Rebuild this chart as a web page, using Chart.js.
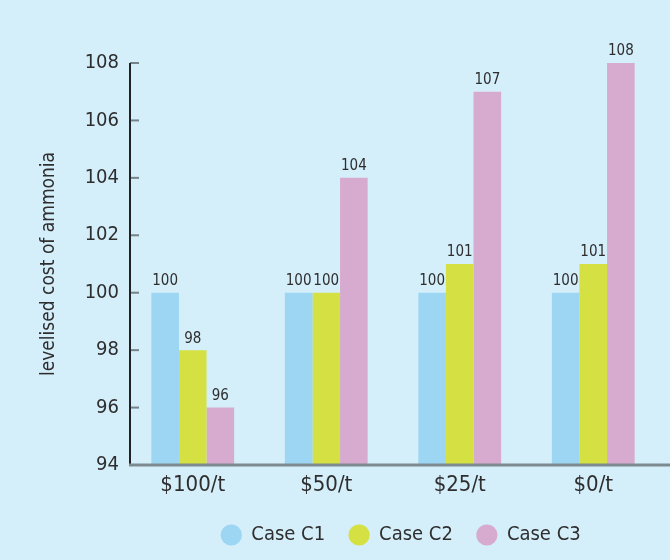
<!DOCTYPE html>
<html>
<head>
<meta charset="utf-8">
<script src="https://cdn.jsdelivr.net/npm/chart.js@4/dist/chart.umd.min.js"></script>
<style>
  html, body { margin: 0; padding: 0; background: #d4eefa; }
  #wrap { width: 670px; height: 560px; position: relative; }
</style>
</head>
<body>
<div id="wrap"><canvas id="chart"></canvas></div>
<script>
const categories = ["$100/t", "$50/t", "$25/t", "$0/t"];
const caseC1 = [100, 100, 100, 100];
const caseC2 = [98, 100, 101, 101];
const caseC3 = [96, 104, 107, 108];
const yMin = 94;
const yMax = 108;
const yStep = 2;

const FONT = "'DejaVu Sans Condensed', 'Liberation Sans', sans-serif";
const TEXT = "#2e2e2e";

// value printed above each bar
const barLabels = {
    id: "barLabels",
    afterDatasetsDraw(chart) {
        const ctx = chart.ctx;
        ctx.save();
        ctx.font = "15px " + FONT;
        ctx.fillStyle = TEXT;
        ctx.textAlign = "center";
        ctx.textBaseline = "bottom";
        chart.data.datasets.forEach((ds, i) => {
            chart.getDatasetMeta(i).data.forEach((bar, j) => {
                ctx.fillText(ds.data[j], bar.x, bar.y - 4);
            });
        });
        ctx.restore();
    }
};

// axis lines: y axis with inward ticks, x axis running to the edge
const axisLines = {
    id: "axisLines",
    afterLayout(chart) {
        // legend sits a little right of the plot centre
        chart.legend.left += 8;
        chart.legend.right += 8;
    },
    afterDraw(chart) {
        const ctx = chart.ctx;
        const area = chart.chartArea;
        const y = chart.scales.y;
        const axisX = area.left + 4;
        ctx.save();
        ctx.strokeStyle = "#75838a";
        ctx.lineWidth = 2;
        y.ticks.forEach(t => {
            const py = y.getPixelForValue(t.value);
            ctx.beginPath();
            ctx.moveTo(axisX, py);
            ctx.lineTo(axisX + 9, py);
            ctx.stroke();
        });
        ctx.strokeStyle = "#222";
        ctx.lineWidth = 2;
        ctx.beginPath();
        ctx.moveTo(axisX, area.top);
        ctx.lineTo(axisX, area.bottom);
        ctx.stroke();
        ctx.strokeStyle = "#7d8b91";
        ctx.lineWidth = 3;
        ctx.beginPath();
        ctx.moveTo(axisX - 1, area.bottom);
        ctx.lineTo(chart.width, area.bottom);
        ctx.stroke();
        ctx.restore();
    }
};

new Chart(document.getElementById("chart"), {
    type: "bar",
    data: {
        labels: categories,
        datasets: [
            { label: "Case C1", data: caseC1, backgroundColor: "#9dd6f3" },
            { label: "Case C2", data: caseC2, backgroundColor: "#d5e043" },
            { label: "Case C3", data: caseC3, backgroundColor: "#d6abcf" }
        ]
    },
    options: {
        responsive: true,
        maintainAspectRatio: false,
        animation: false,
        categoryPercentage: 0.62,
        barPercentage: 1.0,
        layout: { padding: { top: 63, right: 10, bottom: 5, left: 0 } },
        plugins: {
            tooltip: { enabled: false },
            legend: {
                position: "bottom",
                fullSize: false,
                labels: {
                    usePointStyle: true,
                    pointStyle: "circle",
                    boxHeight: 15,
                    padding: 24,
                    color: TEXT,
                    font: { family: FONT, size: 20 }
                }
            }
        },
        scales: {
            x: {
                grid: { display: false, drawTicks: false },
                border: { display: false },
                ticks: { color: TEXT, padding: 7, font: { family: FONT, size: 22 } },
                afterFit(scale) { scale.height = 36; }
            },
            y: {
                min: yMin,
                max: yMax,
                grid: { display: false, drawTicks: false },
                border: { display: false },
                ticks: { stepSize: yStep, color: TEXT, padding: 7, font: { family: FONT, size: 20 } },
                title: {
                    display: true,
                    text: "levelised cost of ammonia",
                    color: TEXT,
                    padding: { top: 38 },
                    font: { family: FONT, size: 19 }
                },
                afterFit(scale) { scale.width = 126; }
            }
        }
    },
    plugins: [barLabels, axisLines]
});
</script>
</body>
</html>
